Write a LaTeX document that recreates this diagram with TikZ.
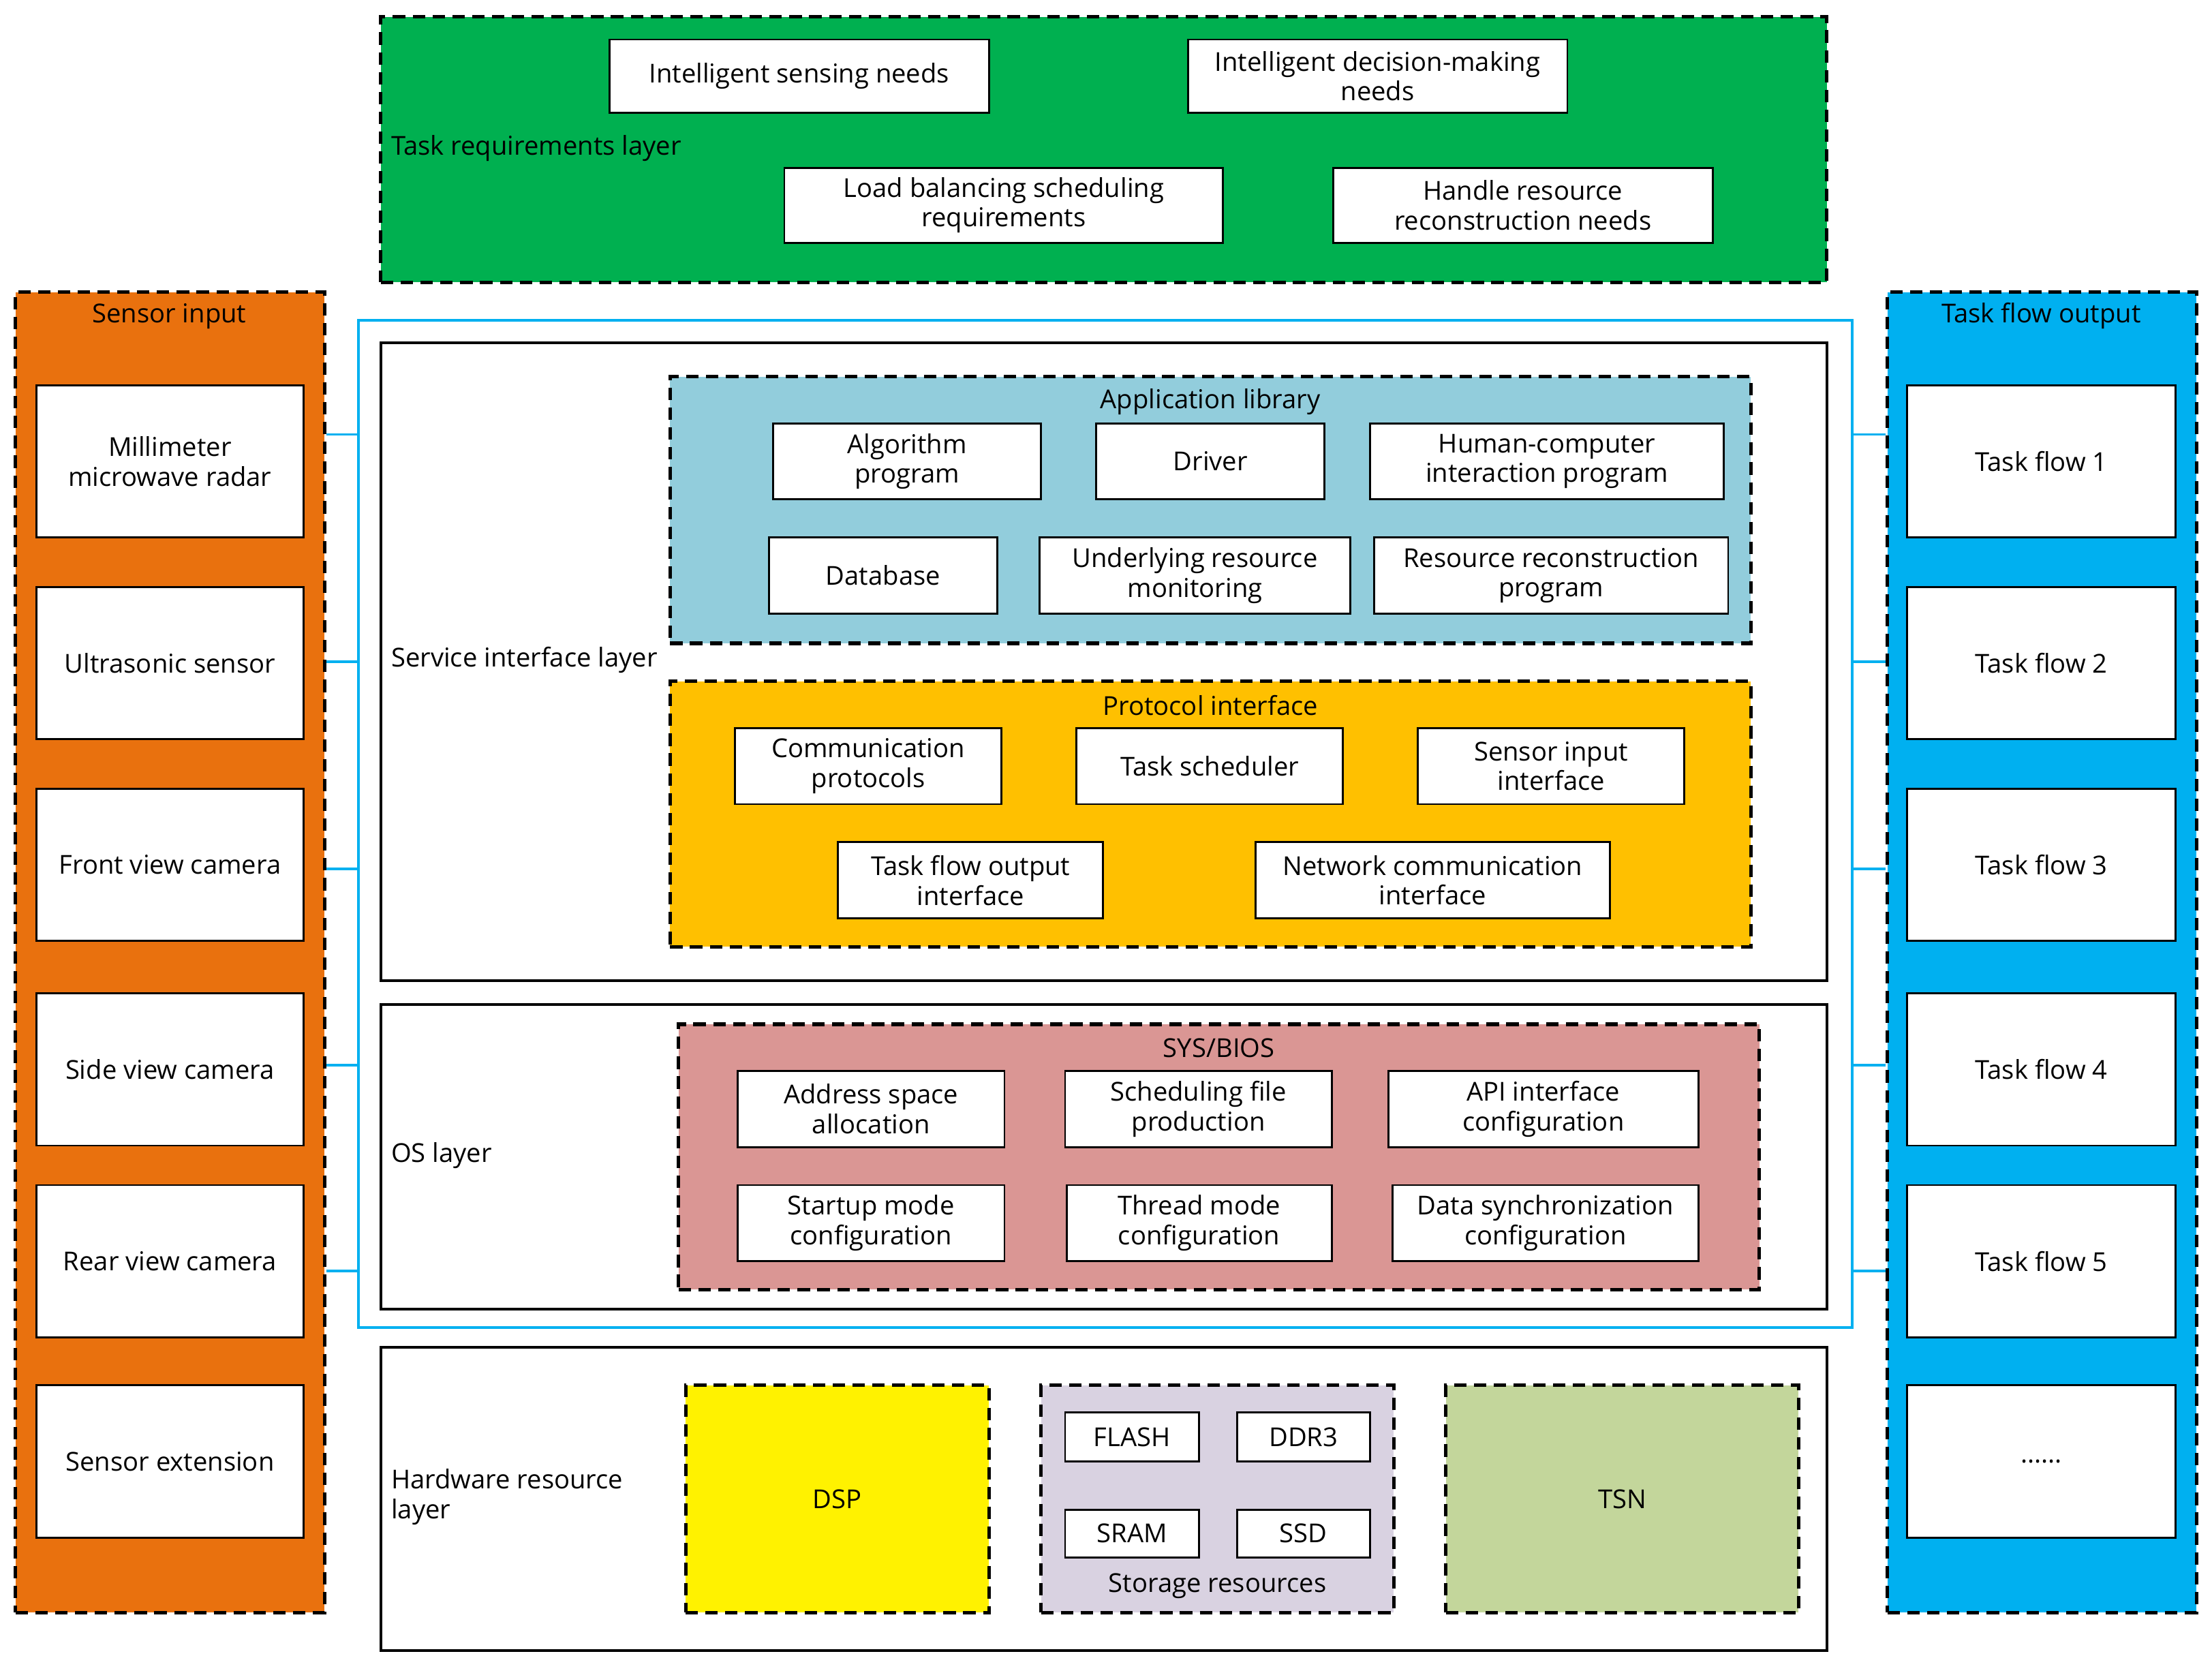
\documentclass[tikz,border=0pt]{standalone}
\usepackage{fontspec}
\setmainfont{Open Sans}
\usetikzlibrary{fit}

\definecolor{reqgreen}{RGB}{0,176,80}
\definecolor{inorange}{RGB}{233,113,14}
\definecolor{outblue}{RGB}{0,176,240}
\definecolor{applib}{RGB}{146,205,220}
\definecolor{protoc}{RGB}{255,192,0}
\definecolor{sysbios}{RGB}{218,150,148}
\definecolor{storage}{RGB}{217,210,225}
\definecolor{tsn}{RGB}{195,214,155}
\definecolor{frame}{RGB}{0,176,240}

\begin{document}
\begin{tikzpicture}[x=0.02cm,y=-0.02cm,font=\fontsize{10.5}{12}\selectfont,
    box/.style={draw,fill=white,line width=0.8pt,inner sep=0pt},
    txt/.style={align=center,inner sep=0pt},
    panel/.style={draw,line width=1.4pt,inner sep=0pt,dash pattern=on 5pt off 3pt},
    layer/.style={draw,fill=white,line width=1pt,inner sep=0pt},
    title/.style={anchor=center,inner sep=1pt},
    lbl/.style={anchor=west,inner sep=0pt,align=left},
    link/.style={draw=frame,line width=1pt}]
  \useasboundingbox (0,0) rectangle (1568,1184);

  % task requirements layer
  \node[panel,fill=reqgreen,fit={(270,12) (1295,200)}] (req) {};
  \node[lbl] (reqlbl) at (277,105) {Task requirements layer};
  \node[box,fit={(432,28) (701,80)},label={[txt]center:Intelligent sensing needs}] (sense) {};
  \node[box,fit={(842,28) (1111,80)},label={[txt]center:{Intelligent decision-making\\needs}}] (decide) {};
  \node[box,fit={(556,119) (867,172)},label={[txt]center:{Load balancing scheduling\\requirements}}] (balance) {};
  \node[box,fit={(945,119) (1214,172)},label={[txt]center:{Handle resource\\reconstruction needs}}] (recon) {};

  % sensor input / task flow output
  \node[panel,fill=inorange,fit={(11,207) (230,1143)}] (inpanel) {};
  \node[title] at (120,224) {Sensor input};
  \node[panel,fill=outblue,fit={(1338,207) (1557,1143)}] (outpanel) {};
  \node[title] at (1447,224) {Task flow output};

  \node[box,fit={(26,273) (215,381)},label={[txt]center:{Millimeter\\microwave radar}}] (s1) {};
  \node[box,fit={(26,416) (215,524)},label={[txt]center:Ultrasonic sensor}] (s2) {};
  \node[box,fit={(26,559) (215,667)},label={[txt]center:Front view camera}] (s3) {};
  \node[box,fit={(26,704) (215,812)},label={[txt]center:Side view camera}] (s4) {};
  \node[box,fit={(26,840) (215,948)},label={[txt]center:Rear view camera}] (s5) {};
  \node[box,fit={(26,982) (215,1090)},label={[txt]center:Sensor extension}] (s6) {};

  \node[box,fit={(1352,273) (1542,381)},label={[txt]center:Task flow 1}] (t1) {};
  \node[box,fit={(1352,416) (1542,524)},label={[txt]center:Task flow 2}] (t2) {};
  \node[box,fit={(1352,559) (1542,667)},label={[txt]center:Task flow 3}] (t3) {};
  \node[box,fit={(1352,704) (1542,812)},label={[txt]center:Task flow 4}] (t4) {};
  \node[box,fit={(1352,840) (1542,948)},label={[txt]center:Task flow 5}] (t5) {};
  \node[box,fit={(1352,982) (1542,1090)},label={[txt]center:......}] (t6) {};

  % frame around service and OS layers
  \node[draw=frame,line width=1.2pt,inner sep=0pt,fit={(254,227) (1313,941)}] (frm) {};
  \foreach \yy in {308,469,616,755,901} {
    \draw[link] (inpanel.east |- 0,\yy) -- (frm.west |- 0,\yy);
    \draw[link] (frm.east |- 0,\yy) -- (outpanel.west |- 0,\yy);
  }

  % service interface layer
  \node[layer,fit={(270,243) (1295,695)}] (svc) {};
  \node[lbl] at (277,468) {Service interface layer};
  \node[panel,fill=applib,fit={(475,267) (1241,456)}] (app) {};
  \node[title] at (858,285) {Application library};
  \node[box,fit={(548,300) (738,354)},label={[txt]center:{Algorithm\\program}}] (algo) {};
  \node[box,fit={(777,300) (939,354)},label={[txt]center:Driver}] (drv) {};
  \node[box,fit={(971,300) (1222,354)},label={[txt]center:{Human-computer\\interaction program}}] (hci) {};
  \node[box,fit={(545,381) (707,435)},label={[txt]center:Database}] (db) {};
  \node[box,fit={(737,381) (957,435)},label={[txt]center:{Underlying resource\\monitoring}}] (mon) {};
  \node[box,fit={(974,381) (1225,435)},label={[txt]center:{Resource reconstruction\\program}}] (rrp) {};

  \node[panel,fill=protoc,fit={(475,483) (1241,671)}] (proto) {};
  \node[title] at (858,500) {Protocol interface};
  \node[box,fit={(521,516) (710,570)},label={[txt]center:{Communication\\protocols}}] (comm) {};
  \node[box,fit={(763,516) (952,570)},label={[txt]center:Task scheduler}] (sched) {};
  \node[box,fit={(1005,516) (1194,570)},label={[txt]center:{Sensor input\\interface}}] (sii) {};
  \node[box,fit={(594,597) (782,651)},label={[txt]center:{Task flow output\\interface}}] (tfo) {};
  \node[box,fit={(890,597) (1141,651)},label={[txt]center:{Network communication\\interface}}] (net) {};

  % OS layer
  \node[layer,fit={(270,712) (1295,928)}] (os) {};
  \node[lbl] at (277,819) {OS layer};
  \node[panel,fill=sysbios,fit={(481,726) (1247,914)}] (bios) {};
  \node[title] at (864,743) {SYS/BIOS};
  \node[box,fit={(523,759) (712,813)},label={[txt]center:{Address space\\allocation}}] (addr) {};
  \node[box,fit={(755,759) (944,813)},label={[txt]center:{Scheduling file\\production}}] (sfile) {};
  \node[box,fit={(984,759) (1204,813)},label={[txt]center:{API interface\\configuration}}] (api) {};
  \node[box,fit={(523,840) (712,894)},label={[txt]center:{Startup mode\\configuration}}] (boot) {};
  \node[box,fit={(756,840) (944,894)},label={[txt]center:{Thread mode\\configuration}}] (thr) {};
  \node[box,fit={(987,840) (1204,894)},label={[txt]center:{Data synchronization\\configuration}}] (sync) {};

  % hardware resource layer
  \node[layer,fit={(270,955) (1295,1170)}] (hw) {};
  \node[lbl] at (277,1061) {Hardware resource\\layer};
  \node[panel,fill=yellow,fit={(486,982) (701,1143)},label={[txt]center:DSP}] (dsp) {};
  \node[panel,fill=storage,fit={(738,982) (988,1143)}] (stor) {};
  \node[box,fit={(755,1001) (850,1036)},label={[txt]center:FLASH}] (flash) {};
  \node[box,fit={(877,1001) (971,1036)},label={[txt]center:DDR3}] (ddr) {};
  \node[box,fit={(755,1070) (850,1104)},label={[txt]center:SRAM}] (sram) {};
  \node[box,fit={(877,1070) (971,1104)},label={[txt]center:SSD}] (ssd) {};
  \node[title] at (863,1124) {Storage resources};
  \node[panel,fill=tsn,fit={(1025,982) (1275,1143)},label={[txt]center:TSN}] (tsnbox) {};
\end{tikzpicture}
\end{document}
